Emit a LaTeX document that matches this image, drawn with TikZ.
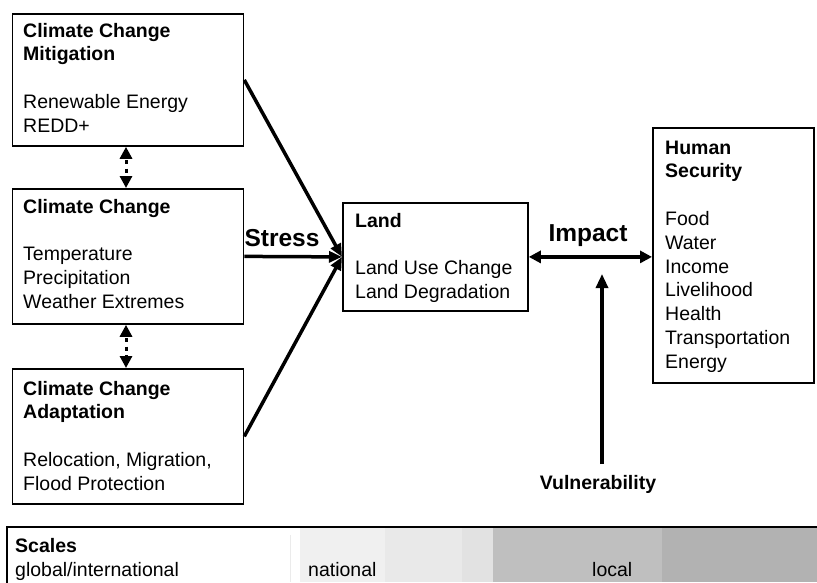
\documentclass[tikz,border=0pt]{standalone}
\usepackage{fontspec}
\setmainfont{Liberation Sans}
\usetikzlibrary{arrows.meta}
\begin{document}
\begin{tikzpicture}[x=1pt,y=-1pt,
  box/.style={draw=black,line width=1.8pt,rectangle,inner sep=0pt,anchor=north west},
  txt/.style={anchor=base west,inner sep=0pt,font=\fontsize{19.5}{23.8}\selectfont},
  biglab/.style={inner sep=0pt,font=\fontsize{24.5}{28}\selectfont\bfseries},
  bandtxt/.style={inner sep=0pt,anchor=base west,font=\fontsize{19.5}{22}\selectfont},
  stressarr/.style={line width=3.5pt,-{Triangle[length=13pt,width=11pt]}},
  dotarr/.style={line width=3pt,dash pattern=on 4pt off 4.5pt,dash phase=-2pt,{Triangle[length=12pt,width=12pt]}-{Triangle[length=12pt,width=12pt]}},
  imparr/.style={line width=3.5pt,{Triangle[length=12pt,width=12pt]}-{Triangle[length=12pt,width=12pt]}},
  vularr/.style={line width=3.2pt,-{Triangle[length=14pt,width=12pt]}}]
\useasboundingbox (0,0) rectangle (817,582);

% scales band
\fill[white] (7,527) rectangle (300,582);
\fill[black!6] (300,527) rectangle (385,582);
\fill[black!8.5] (385,527) rectangle (462,582);
\fill[black!11.5] (462,527) rectangle (493,582);
\fill[black!25] (493,527) rectangle (662,582);
\fill[black!30] (662,527) rectangle (817,582);
\draw[black!8,line width=0.8pt] (290,535) -- (290,582);
\draw[line width=2pt] (7,583) -- (7,527) -- (818,527);
\node[bandtxt,font=\fontsize{19.5}{22}\selectfont\bfseries] (scales) at (15,552) {Scales};
\node[bandtxt] (glob) at (15,576) {global/international};
\node[bandtxt] (nat) at (308,576) {national};
\node[bandtxt] (loc) at (592,576) {local};

% boxes
\node[box,minimum width=231pt,minimum height=132pt] (mit) at (11.5,13) {};
\node[txt] (mitT) at (23,37) {\begin{tabular}[t]{@{}l@{}}\textbf{Climate Change}\\\textbf{Mitigation}\\ \\Renewable Energy\\REDD+\end{tabular}};

\node[box,minimum width=231pt,minimum height=135pt] (cc) at (11.5,188) {};
\node[txt] (ccT) at (23,213) {\begin{tabular}[t]{@{}l@{}}\textbf{Climate Change}\\ \\Temperature\\Precipitation\\Weather Extremes\end{tabular}};

\node[box,minimum width=231pt,minimum height=135pt] (ada) at (11.5,368) {};
\node[txt] (adaT) at (23,395) {\begin{tabular}[t]{@{}l@{}}\textbf{Climate Change}\\\textbf{Adaptation}\\ \\Relocation, Migration,\\Flood Protection\end{tabular}};

\node[box,minimum width=185pt,minimum height=108pt] (land) at (342,202) {};
\node[txt] (landT) at (355,227) {\begin{tabular}[t]{@{}l@{}}\textbf{Land}\\ \\Land Use Change\\Land Degradation\end{tabular}};

\node[box,minimum width=161pt,minimum height=255pt] (hs) at (652,127) {};
\node[txt] (hsT) at (665,154) {\begin{tabular}[t]{@{}l@{}}\textbf{Human}\\\textbf{Security}\\ \\Food\\Water\\Income\\Livelihood\\Health\\Transportation\\Energy\end{tabular}};

% labels
\node[biglab] (stress) at (282,238) {Stress};
\node[biglab] (impact) at (588,236) {Impact};
\node[inner sep=0pt,font=\fontsize{19.5}{24}\selectfont\bfseries] (vul) at (598,484) {Vulnerability};

% connectors
\draw[stressarr] (mit.east) -- (land.west);
\draw[stressarr] (cc.east) -- (land.west);
\draw[stressarr] (ada.east) -- (land.west);
\draw[dotarr] (mit.south -| 126,0) -- (cc.north -| 126,0);
\draw[dotarr] (cc.south -| 126,0) -- (ada.north -| 126,0);
\draw[imparr] (land.east) -- (land.east -| hs.west);
\coordinate (vbase) at (602,464);
\coordinate (vtip) at (602,274);
\draw[vularr] (vbase) -- (vtip);
\end{tikzpicture}
\end{document}
